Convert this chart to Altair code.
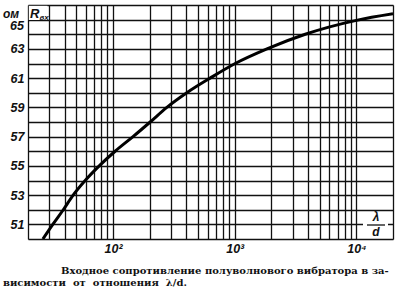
import altair as alt
import pandas as pd

# curve data
ratio = [26.5, 32, 39, 47, 59, 77, 104, 146, 202, 277, 404, 628, 1009, 1841, 3800, 10000, 20000]
resistance = [50, 51, 52, 53, 54, 55, 56, 57, 58, 59, 60, 61, 62, 63, 64, 64.95, 65.4]

x_grid = [20, 30, 40, 50, 60, 70, 80, 90, 100, 200, 300, 400, 500, 600, 700, 800, 900,
          1000, 2000, 3000, 4000, 5000, 6000, 7000, 8000, 9000, 10000, 20000]
x_label_values = [100, 1000, 10000]
x_label_texts = ["10²", "10³", "10⁴"]
y_grid = list(range(50, 67))
y_label_values = [51, 53, 55, 57, 59, 61, 63]
y_top_label = [65]

caption_1 = "Входное сопротивление полуволнового вибратора в за-"
caption_2 = "висимости\u00a0 от\u00a0 отношения\u00a0 λ/d."

W, H = 365, 234

xexpr = " : ".join(f"datum.value == {v} ? '{t}'" for v, t in zip(x_label_values, x_label_texts)) + " : ''"
yexpr = "indexof([" + ",".join(str(v) for v in y_label_values) + "], datum.value) >= 0 ? datum.label : ''"

df = pd.DataFrame({"ratio": ratio, "R": resistance})

xscale = alt.Scale(type="log", domain=[20, 20000], nice=False)
yscale = alt.Scale(domain=[50, 66], nice=False, zero=False)

xaxis = alt.Axis(values=x_grid, labelExpr=xexpr, grid=True, gridColor="#111", gridWidth=1.3,
                 domain=False, ticks=False, labelFont="Liberation Sans", labelFontStyle="italic",
                 labelFontWeight="bold", labelFontSize=12.5, labelPadding=3, labelColor="#111",
                 title=None, labelFlush=False, labelOverlap=False)
yaxis = alt.Axis(values=y_grid, labelExpr=yexpr, grid=True, gridColor="#111", gridWidth=1.3,
                 domain=False, ticks=False, labelFont="Liberation Sans", labelFontStyle="italic",
                 labelFontWeight="bold", labelFontSize=12.5, labelPadding=4, labelColor="#111",
                 title=None, labelOverlap=False)

curve = alt.Chart(df).mark_line(color="black", strokeWidth=3, interpolate="monotone", clip=True).encode(
    x=alt.X("ratio:Q", scale=xscale, axis=xaxis),
    y=alt.Y("R:Q", scale=yscale, axis=yaxis),
)

top_label = alt.Chart(pd.DataFrame({"R": y_top_label})).mark_text(
    font="Liberation Sans", fontSize=12.5, fontStyle="italic", fontWeight="bold", align="right",
    baseline="middle", dy=6, color="#111").encode(
    x=alt.value(-4), y=alt.Y("R:Q", scale=yscale, axis=yaxis), text=alt.Text("R:Q"))

one = pd.DataFrame({"t": ["x"]})

def txt(s, x, y, size=12, font="Liberation Sans", style="italic", weight="bold", align="left", baseline="middle"):
    return alt.Chart(pd.DataFrame({"t": [s]})).mark_text(
        font=font, fontSize=size, fontStyle=style, fontWeight=weight, align=align, baseline=baseline,
        color="#111").encode(x=alt.value(x), y=alt.value(y), text="t:N")

def rect(x1, x2, y1, y2, color="white"):
    return alt.Chart(one).mark_rect(color=color).encode(
        x=alt.value(x1), x2=alt.value(x2), y=alt.value(y1), y2=alt.value(y2))

def rule(x1, x2, y1, y2, w=1.3):
    return alt.Chart(one).mark_rule(color="#111", strokeWidth=w).encode(
        x=alt.value(x1), x2=alt.value(x2), y=alt.value(y1), y2=alt.value(y2))

layers = [
    curve,
    top_label,
    rect(0.8, 19.5, 0.8, 15),
    txt("R", 2, 9, size=13),
    txt("вх", 11.5, 12.5, size=8),
    rect(335, 360, 208, 233),
    rule(339, 357, 220, 220),
    txt("λ", 348, 212, size=12, align="center"),
    txt("d", 348, 227, size=12, align="center"),
    txt("ом", -25, 8.5, size=12, style="italic"),
    txt(caption_1, 33, 266, size=10, font="DejaVu Serif", style="normal", weight="bold"),
    txt(caption_2, -25, 278, size=10, font="DejaVu Serif", style="normal", weight="bold"),
]

chart = alt.layer(*layers).properties(
    width=W, height=H,
    autosize=alt.AutoSizeParams(type="none"),
    padding={"left": 28, "top": 5, "right": 7, "bottom": 52},
).configure_view(stroke="#111", strokeWidth=1.6).configure(background="white")

chart.save("out.html", embed_options={"renderer": "svg", "actions": False})
